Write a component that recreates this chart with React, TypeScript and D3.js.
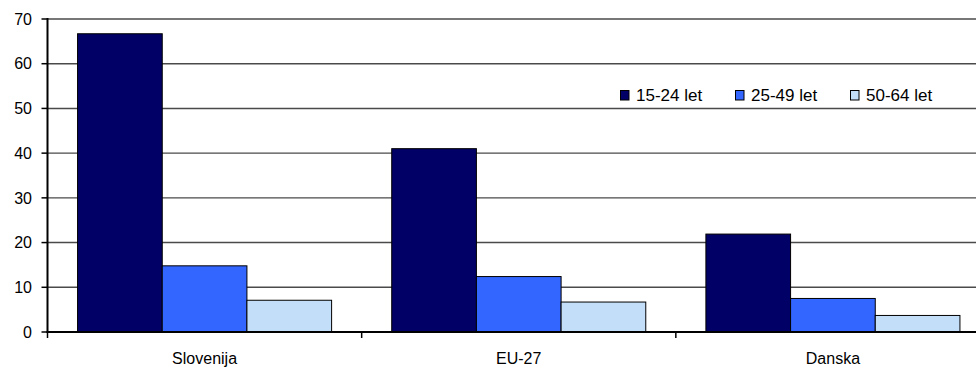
import * as d3 from "d3";

// podatki
const categories = ["Slovenija", "EU-27", "Danska"];
const seriesNames = ["15-24 let", "25-49 let", "50-64 let"];
const young = [66.7, 41.0, 21.9];
const middle = [14.8, 12.4, 7.5];
const older = [7.1, 6.7, 3.7];
const yTicks = [0, 10, 20, 30, 40, 50, 60, 70];
const colors = ["#000066", "#3366FF", "#C2DEF8"];

const width = 976;
const height = 369;

const App = () => {
  const values = [young, middle, older];
  const left = 47.5;
  const top = 19;
  const bottom = 332;
  const right = 990; // plot area continues past the window edge

  const x0 = d3.scaleBand().domain(categories).range([left, right]).padding(0);
  const x1 = d3
    .scaleBand()
    .domain(seriesNames)
    .range([0, x0.bandwidth()])
    .paddingInner(0)
    .paddingOuter(0.355);
  const y = d3.scaleLinear().domain([0, 70]).range([bottom, top]);

  const font = "'Liberation Sans', Arial, sans-serif";

  return (
    <svg
      width={width}
      height={height}
      style={{ position: "absolute", left: 0, top: 0, background: "#fff" }}
    >
      {/* mreža */}
      {yTicks
        .filter((t) => t > 0)
        .map((t) => (
          <line key={t} x1={left} x2={width} y1={y(t)} y2={y(t)} stroke="#4a4a4a" strokeWidth={1.4} />
        ))}

      {/* stolpci */}
      {categories.map((c, i) => (
        <g key={c} transform={`translate(${x0(c)},0)`}>
          {seriesNames.map((s, k) => (
            <rect
              key={s}
              x={x1(s)}
              y={y(values[k][i])}
              width={x1.bandwidth()}
              height={bottom - y(values[k][i])}
              fill={colors[k]}
              stroke="#000"
              strokeWidth={1}
            />
          ))}
        </g>
      ))}

      {/* os y */}
      <line x1={left} x2={left} y1={top - 1} y2={bottom + 1} stroke="#000" strokeWidth={2} />
      {yTicks.map((t) => (
        <g key={t}>
          <line x1={left - 6} x2={left} y1={y(t)} y2={y(t)} stroke="#000" strokeWidth={1.5} />
          <text
            x={32}
            y={y(t)}
            dy="0.36em"
            textAnchor="end"
            fontFamily={font}
            fontSize={16}
            fill="#000"
          >
            {t}
          </text>
        </g>
      ))}

      {/* os x */}
      <line x1={left - 1} x2={width} y1={bottom} y2={bottom} stroke="#000" strokeWidth={2} />
      {categories.map((c) => (
        <line
          key={c}
          x1={x0(c)}
          x2={x0(c)}
          y1={bottom}
          y2={bottom + 6}
          stroke="#000"
          strokeWidth={1.5}
        />
      ))}
      {categories.map((c) => (
        <text
          key={c}
          x={(x0(c) as number) + x0.bandwidth() / 2}
          y={364}
          textAnchor="middle"
          fontFamily={font}
          fontSize={16}
          fill="#000"
        >
          {c}
        </text>
      ))}

      {/* legenda */}
      {seriesNames.map((s, k) => (
        <g key={s} transform={`translate(${620 + k * 115},90)`}>
          <rect x={0.5} y={0.5} width={8.5} height={9.5} fill={colors[k]} stroke="#000" strokeWidth={1} />
          <text x={16} y={10.5} fontFamily={font} fontSize={17} fill="#000">
            {s}
          </text>
        </g>
      ))}
    </svg>
  );
};

export default App;
